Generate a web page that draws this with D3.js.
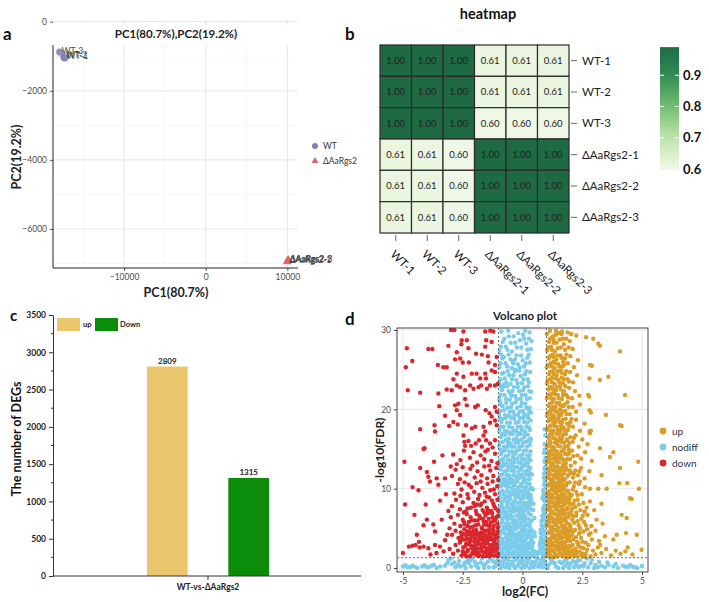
<!DOCTYPE html>
<html lang="en">
<head>
<meta charset="UTF-8">
<title>Figure</title>
<script src="https://d3js.org/d3.v7.min.js"></script>
<style>
  body { margin: 0; background: #fff; }
  text { font-family: Lato, "Open Sans", sans-serif; }
</style>
</head>
<body>
<script>
// ---------- data ----------
// a: PCA
var pcaNames = ["WT-1", "WT-2", "WT-3", "\u0394AaRgs2-1", "\u0394AaRgs2-2", "\u0394AaRgs2-3"];
var pcaGroup = ["WT", "WT", "WT", "\u0394AaRgs2", "\u0394AaRgs2", "\u0394AaRgs2"];
var pc1 = [-17260, -17380, -17870, 9980, 10050, 10120];
var pc2 = [-1050, -1020, -877, -6950, -6920, -6900];
var pcaXTicks = [-10000, 0, 10000];
var pcaYTicks = [0, -2000, -4000, -6000];

// b: correlation heatmap
var samples = ["WT-1", "WT-2", "WT-3", "\u0394AaRgs2-1", "\u0394AaRgs2-2", "\u0394AaRgs2-3"];
var corr = [
  [1.00, 1.00, 1.00, 0.61, 0.61, 0.61],
  [1.00, 1.00, 1.00, 0.61, 0.61, 0.61],
  [1.00, 1.00, 1.00, 0.60, 0.60, 0.60],
  [0.61, 0.61, 0.60, 1.00, 1.00, 1.00],
  [0.61, 0.61, 0.60, 1.00, 1.00, 1.00],
  [0.61, 0.61, 0.60, 1.00, 1.00, 1.00]
];
var colorbarTicks = [0.6, 0.7, 0.8, 0.9];

// c: DEG counts
var degGroups = ["WT-vs-\u0394AaRgs2"];
var degSeries = ["up", "Down"];
var degValues = [2809, 1315];

// d: volcano (log2FC, -log10FDR)
var upPts = "1.02,1.5 1.08,2.3 1.14,1.8 1.2,2.8 1.26,1.4 1.32,2.1 1.38,2.7 1.44,1.6 1.5,2.4 1.56,1.9 1.62,2.9 1.68,1.5 1.74,2.2 1.8,2.7 1.86,1.7 1.92,2.5 1.98,1.4 2.04,2.1 2.1,2.9 2.16,1.8 2.22,2.4 2.28,1.5 2.34,2.8 2.4,2.0 2.46,1.6 2.55,2.5 2.65,1.8 2.75,2.9 2.85,1.5 2.95,2.2 3.05,1.7 3.15,2.6 3.3,1.9 3.5,2.4 3.7,1.6 3.9,2.2 4.1,1.8 4.3,2.1 4.6,1.7 4.98,2.3 1.05,2.9 1.35,1.4 1.65,2.4 1.95,2.8 2.25,2.0 2.6,1.4 1.17,2.2 1.47,2.9 1.77,1.9 2.07,1.6 3.25,2.9 4.4,2.6 " +
  "1.03,3.3 1.09,4.4 1.15,3.7 1.21,4.8 1.27,3.2 1.33,4.1 1.39,3.6 1.45,4.7 1.51,3.3 1.57,4.2 1.63,3.8 1.69,4.9 1.75,3.2 1.81,4.4 1.87,3.7 1.93,4.6 1.99,3.4 2.06,4.1 2.13,3.6 2.2,4.8 2.28,3.3 2.36,4.3 2.45,3.8 2.55,4.6 2.65,3.2 2.78,4.2 2.9,3.6 3.05,4.7 3.2,3.4 3.45,4.0 3.8,3.6 3.94,4.2 4.33,4.4 4.78,4.2 1.12,3.0 1.42,4.1 1.72,4.4 2.02,4.9 2.32,3.1 1.24,4.0 1.54,3.0 1.84,4.0 2.7,4.9 " +
  "1.02,5.3 1.08,6.4 1.14,5.8 1.2,6.9 1.26,5.2 1.32,6.1 1.38,5.6 1.44,6.7 1.5,5.1 1.56,6.2 1.62,5.7 1.68,6.8 1.74,5.3 1.8,6.3 1.86,5.6 1.93,6.9 2.0,5.2 2.08,6.1 2.16,5.7 2.25,6.6 2.35,5.4 2.46,6.2 2.58,5.8 2.72,6.7 2.88,5.3 3.1,6.1 3.35,5.6 4.15,6.7 4.36,6.3 1.11,6.0 1.41,6.0 1.71,6.2 2.04,6.7 1.23,5.0 1.53,6.9 1.83,5.0 2.4,5.0 " +
  "1.03,7.3 1.09,8.4 1.15,7.7 1.21,8.8 1.27,7.1 1.33,8.2 1.39,7.6 1.45,8.7 1.51,7.2 1.57,8.3 1.63,7.7 1.69,8.9 1.75,7.3 1.82,8.2 1.89,7.6 1.96,8.7 2.04,7.2 2.12,8.1 2.21,7.7 2.31,8.6 2.42,7.3 2.55,8.2 2.68,7.6 2.82,8.4 3.0,7.3 3.3,8.1 4.57,8.7 4.5,8.8 1.12,8.0 1.42,8.0 1.72,8.3 2.0,8.0 1.24,7.0 1.54,8.9 1.86,8.9 2.25,7.0 " +
  "1.02,9.3 1.08,10.4 1.14,9.7 1.2,10.8 1.26,9.2 1.32,10.3 1.38,9.6 1.44,10.7 1.5,9.1 1.56,10.2 1.62,9.8 1.68,10.9 1.75,9.3 1.82,10.4 1.9,9.7 1.98,10.8 2.06,9.2 2.15,10.3 2.25,9.6 2.36,10.6 2.48,9.3 2.62,10.2 2.82,10.0 3.17,10.0 3.52,10.0 4.05,10.7 4.38,10.7 4.87,10.0 1.11,9.0 1.41,10.0 1.71,10.1 2.0,9.0 1.23,10.0 1.53,10.9 2.4,10.9 " +
  "1.03,11.3 1.09,12.4 1.15,11.8 1.21,12.9 1.27,11.2 1.33,12.3 1.39,11.7 1.45,12.8 1.51,11.3 1.57,12.2 1.63,11.7 1.7,12.8 1.77,11.2 1.85,12.4 1.93,11.8 2.02,12.9 2.11,11.4 2.21,12.3 2.32,11.7 2.45,12.6 2.6,11.3 2.8,12.2 3.31,11.7 4.08,12.6 1.12,12.0 1.42,12.0 1.74,12.3 2.05,12.0 1.25,11.0 1.6,11.0 " +
  "1.02,13.3 1.08,14.4 1.14,13.7 1.2,14.8 1.26,13.2 1.32,14.3 1.38,13.7 1.45,14.7 1.52,13.3 1.59,14.2 1.66,13.8 1.73,14.9 1.81,13.2 1.89,14.3 1.98,13.7 2.08,14.8 2.19,13.3 2.3,14.2 2.45,13.8 2.62,14.6 2.9,13.5 3.66,14.0 3.8,14.6 4.84,13.4 1.11,14.0 1.41,14.0 1.7,13.1 1.95,14.5 " +
  "1.03,15.3 1.1,16.4 1.17,15.8 1.24,16.9 1.31,15.2 1.38,16.3 1.45,15.7 1.52,16.8 1.59,15.3 1.66,16.4 1.74,15.8 1.82,16.9 1.91,15.4 2.0,16.5 2.1,15.9 2.22,16.7 2.35,15.3 2.5,16.2 2.72,15.6 3.24,15.1 2.82,17.0 1.14,16.0 1.48,16.0 1.85,16.1 " +
  "1.02,17.4 1.09,18.5 1.16,17.9 1.23,18.9 1.3,17.3 1.37,18.4 1.44,17.8 1.51,18.9 1.58,17.2 1.65,18.3 1.73,17.7 1.81,18.8 1.9,17.4 2.0,18.4 2.11,17.8 2.24,18.7 2.4,17.3 2.6,18.2 2.8,17.2 2.86,17.3 4.08,18.0 4.15,17.9 1.26,18.1 1.62,18.0 " +
  "1.03,19.3 1.1,20.4 1.17,19.8 1.24,20.9 1.31,19.2 1.38,20.3 1.46,19.7 1.54,20.8 1.62,19.3 1.7,20.4 1.79,19.8 1.88,20.9 1.98,19.4 2.1,20.3 2.24,19.7 2.4,20.6 2.8,19.9 2.86,19.6 3.49,19.3 1.2,20.0 1.58,20.0 " +
  "1.02,21.4 1.09,22.5 1.16,21.9 1.24,22.8 1.32,21.3 1.4,22.4 1.48,21.8 1.56,22.9 1.65,21.3 1.74,22.3 1.84,21.8 1.95,22.7 2.07,21.4 2.2,22.3 2.38,21.7 2.75,21.8 2.79,21.6 4.29,21.8 1.28,22.0 1.7,22.0 " +
  "1.03,23.3 1.11,24.4 1.19,23.8 1.27,24.8 1.35,23.2 1.43,24.3 1.51,23.7 1.6,24.9 1.69,23.3 1.78,24.4 1.88,23.8 1.99,24.7 2.12,23.4 2.28,24.3 2.8,23.9 3.24,23.7 3.59,24.1 1.23,24.0 1.64,24.0 " +
  "1.02,25.3 1.1,26.4 1.18,25.8 1.26,26.9 1.34,25.2 1.42,26.3 1.5,25.7 1.59,26.8 1.68,25.4 1.78,26.4 1.89,25.8 2.0,26.7 2.15,25.3 2.32,26.2 2.82,25.6 2.9,25.5 1.3,26.0 1.7,26.0 " +
  "1.03,27.4 1.11,28.5 1.19,27.9 1.27,29.2 1.35,27.3 1.43,28.4 1.51,29.6 1.6,27.8 1.69,28.9 1.78,27.5 1.88,29.7 1.98,28.6 2.1,27.6 2.25,29.3 2.66,29.1 2.96,28.9 3.17,28.3 3.24,28.0 4.08,27.3 1.15,29.9 1.4,29.9 1.65,29.8 1.02,29.5 1.3,28.8 " +
  // denser core
  "1.05,1.9 1.11,2.6 1.17,1.5 1.23,2.3 1.29,2.9 1.35,1.8 1.41,2.5 1.47,1.5 1.53,2.1 1.59,2.7 1.65,1.7 1.71,2.5 1.77,2.9 1.83,1.4 1.89,2.2 1.95,1.8 2.01,2.7 2.13,2.3 2.19,1.5 2.31,2.0 2.43,2.6 2.52,1.8 2.7,2.3 1.06,3.6 1.12,4.6 1.18,3.3 1.24,4.4 1.3,3.8 1.36,4.8 1.42,3.4 1.48,4.4 1.54,3.8 1.6,4.6 1.66,3.3 1.72,3.9 1.78,4.7 1.84,3.4 1.9,4.3 1.96,3.9 2.1,4.5 2.24,3.9 2.4,4.5 2.5,3.3 2.85,4.4 " +
  "1.05,5.6 1.11,6.6 1.17,5.2 1.23,6.3 1.29,5.8 1.35,6.8 1.41,5.4 1.47,6.3 1.53,5.8 1.59,6.6 1.65,5.3 1.71,6.0 1.77,6.8 1.83,5.8 1.9,6.4 1.97,5.5 2.12,6.5 2.3,5.9 2.52,6.6 2.65,5.4 1.06,7.7 1.12,8.7 1.18,7.3 1.24,8.3 1.3,7.8 1.36,8.8 1.42,7.4 1.48,8.3 1.54,7.8 1.6,8.7 1.66,7.3 1.72,7.9 1.79,8.6 1.85,7.4 1.93,8.3 2.08,7.5 2.18,8.5 2.36,8.0 2.6,7.1 " +
  "1.05,9.6 1.11,10.6 1.17,9.2 1.23,10.4 1.29,9.8 1.35,10.8 1.41,9.4 1.47,10.3 1.53,9.7 1.59,10.6 1.65,9.3 1.72,10.4 1.79,9.8 1.86,10.7 1.94,9.4 2.1,9.9 2.2,10.8 2.3,9.2 1.06,11.6 1.12,12.6 1.18,11.2 1.24,12.4 1.3,11.7 1.36,12.8 1.42,11.4 1.48,12.3 1.54,11.8 1.6,12.6 1.67,11.3 1.74,11.9 1.81,12.7 1.89,11.6 1.98,12.3 2.15,11.9 2.38,12.2 " +
  "1.05,13.6 1.11,14.7 1.17,13.2 1.23,14.3 1.29,13.8 1.35,14.8 1.42,13.4 1.49,14.3 1.56,13.8 1.63,14.7 1.7,13.6 1.78,14.4 1.86,13.7 1.94,14.9 2.12,14.1 1.06,15.6 1.13,16.8 1.2,15.3 1.28,16.4 1.35,15.8 1.42,16.9 1.49,15.4 1.56,16.3 1.63,15.9 1.7,16.8 1.78,15.3 1.87,16.2 1.96,15.8 2.15,16.4 1.05,17.7 1.12,18.8 1.19,17.3 1.27,18.6 1.34,17.9 1.41,18.8 1.48,17.4 1.55,18.4 1.62,17.6 1.69,18.7 1.77,17.3 1.86,18.2 1.95,17.9 2.05,18.8 1.06,19.6 1.14,20.7 1.21,19.3 1.28,20.3 1.35,19.8 1.42,20.8 1.5,19.4 1.58,20.5 1.66,19.7 1.75,20.6 1.84,19.4 1.93,20.3 " +
  "1.06,21.8 1.13,22.8 1.2,21.4 1.28,22.5 1.36,21.9 1.44,22.8 1.52,21.4 1.6,22.5 1.69,21.8 1.79,22.9 1.9,21.5 1.06,23.7 1.15,24.7 1.23,23.4 1.31,24.4 1.39,23.9 1.47,24.8 1.55,23.4 1.64,24.6 1.73,23.8 1.83,24.8 1.94,23.5 1.06,25.6 1.14,26.7 1.22,25.4 1.3,26.6 1.38,25.8 1.46,26.8 1.54,25.4 1.63,26.5 1.73,25.6 1.84,26.9 1.07,27.8 1.15,28.9 1.23,27.5 1.31,28.4 1.39,29.4 1.47,27.7 1.55,28.8 1.64,29.5 1.73,28.2 1.83,28.9 1.93,27.8 2.03,29.5";

var downPts = "-2.99,30 -2.85,30 -2.47,29.8 -1.56,29.8 -1.22,29.8 -1.35,29.9 -4.84,27.7 -3.94,27.6 -3.77,27.6 -3.1,28 -2.75,27.2 -2.54,28.7 -2.56,28.2 -2.33,28.7 -2.26,27.7 -1.52,28.7 -1.56,27.9 -1.29,28.5 -4.88,25.3 -4.61,26.1 -3.54,25.6 -3.31,25.3 -3.17,25.3 -2.82,26.3 -2.61,26.4 -2.5,25.9 -2.24,25.9 -1.94,27 -1.7,26.9 -1.45,26.7 -1.08,26.6 -1.42,25.9 -1.15,25.6 -2.75,24.5 -2.89,23.8 -2.47,24.1 -2.12,24.5 -1.92,24.5 -1.77,23.9 -1.56,24.5 -1.53,23.9 -1.29,24.9 -1.15,24.7 -4.8,22.4 -4.28,22.1 -3.52,22 -3.17,22.5 -2.96,22.4 -2.75,23 -2.61,22.8 -2.4,22.4 -2.19,23 -2.05,22.6 -1.84,22.8 -1.73,23 -1.49,22.6 -1.36,23 -1.15,23 -1.04,23.2 -3.48,20.4 -2.82,20.5 -2.68,20.7 -2.75,19.9 -2.33,20.5 -2.4,21.3 -1.98,20.3 -1.87,20.5 -1.54,19.9 -1.38,19.5 -1.15,20.3 -1.08,19.7 -3.24,19.2 -2.61,19.3 -1.29,19.1 -3.68,18 -3.07,17.9 -2.89,18.4 -2.71,18.1 -2.36,18 -2.12,17.6 -1.98,17.8 -1.63,17.8 -1.56,17.2 -1.36,18.3 -1.15,18.6 -1.08,18 -4.28,17.5 -3.66,17.2 -2.47,16.7 -1.63,16.7 -2.43,15.9 -2.26,16 -1.96,15.7 -1.82,16.1 -1.52,16.1 -1.36,15.7 -1.15,16.1 -2.15,15.4 -2.4,15.4 -4.1,15.1 -1.7,15.3 -1.25,15.2 " +
  "-4.94,13.4 -4.14,15 -4.91,8 -4.52,6.7 -4.35,9.8 -4.28,12.6 -4.0,12.1 -3.94,11.5 -3.87,10.9 -4.05,8 -3.59,11.3 -3.52,10.5 -3.24,11.3 -4.42,4.2 -4.33,3.3 -4.14,5.4 -4.0,6.1 -3.73,5.5 -3.66,4.6 -4.47,2.9 -4.14,2.7 -3.94,2.5 -3.66,2.9 -3.45,2.7 -3.24,3.5 -3.38,6.1 -3.1,7.2 -3.45,8.5 -3.2,9.3 -3.7,13.4 -3.35,14.2 -4.6,10.2 -3.0,12.8 -3.05,5.0 -3.15,4.2 -3.3,2.1 -3.6,1.9 -3.85,1.7 -4.3,2.6 -4.6,2.8 -4.75,2.7 -5.0,1.9 " +
  "-2.9,14.3 -2.6,13.6 -2.45,14.8 -2.2,13.9 -2.05,14.6 -1.9,13.3 -1.75,14.2 -1.6,13.7 -1.45,14.9 -1.3,13.5 -1.15,14.4 -1.05,13.2 -2.75,13.1 -1.55,14.7 " +
  "-2.95,11.6 -2.8,12.4 -2.62,11.2 -2.5,12.7 -2.35,11.8 -2.18,12.5 -2.0,11.4 -1.88,12.2 -1.72,11.7 -1.6,12.8 -1.48,11.3 -1.35,12.3 -1.22,11.6 -1.1,12.6 -1.02,11.1 -2.1,12.9 -1.4,12.9 " +
  "-2.85,9.4 -2.7,10.6 -2.55,9.9 -2.42,10.8 -2.3,9.3 -2.15,10.2 -2.02,9.6 -1.92,10.7 -1.8,9.2 -1.68,10.1 -1.57,9.5 -1.46,10.6 -1.35,9.8 -1.25,10.9 -1.15,9.3 -1.06,10.3 -2.6,9.1 -1.75,10.9 -1.2,9.9 -1.5,9.0 -2.25,10.5 " +
  "-2.95,7.8 -2.78,8.6 -2.62,7.4 -2.5,8.3 -2.38,7.1 -2.27,8.8 -2.16,7.6 -2.05,8.2 -1.95,7.2 -1.86,8.7 -1.76,7.9 -1.67,7.3 -1.58,8.4 -1.49,7.6 -1.4,8.9 -1.31,7.2 -1.22,8.1 -1.13,7.5 -1.05,8.6 -2.45,7.0 -1.9,8.0 -1.6,7.0 -1.28,8.5 -1.02,7.2 " +
  "-3.0,6.4 -2.85,5.6 -2.7,6.7 -2.6,5.3 -2.5,6.1 -2.42,5.5 -2.33,6.8 -2.25,5.8 -2.17,6.4 -2.08,5.2 -2.0,6.0 -1.92,6.8 -1.85,5.5 -1.77,6.3 -1.7,5.1 -1.62,5.9 -1.55,6.6 -1.48,5.4 -1.41,6.2 -1.34,5.7 -1.27,6.9 -1.2,5.3 -1.13,6.1 -1.06,5.6 -1.02,6.6 -1.88,6.0 -1.45,6.9 -2.2,5.1 -1.6,5.5 -1.25,6.4 " +
  "-2.95,4.2 -2.8,4.7 -2.68,3.8 -2.58,4.5 -2.5,3.6 -2.43,4.9 -2.36,4.1 -2.29,3.7 -2.22,4.6 -2.15,3.9 -2.08,4.4 -2.01,3.6 -1.94,4.8 -1.87,4.2 -1.8,3.7 -1.73,4.5 -1.66,3.9 -1.59,4.7 -1.52,4.1 -1.45,3.6 -1.38,4.4 -1.31,3.8 -1.24,4.9 -1.17,4.2 -1.1,3.7 -1.04,4.6 -2.6,3.5 -2.0,4.2 -1.7,5.0 -1.4,4.8 -1.2,3.5 -1.8,4.0 -2.25,4.3 -1.55,3.5 -1.05,3.9 " +
  "-3.05,2.4 -2.9,1.8 -2.8,2.9 -2.7,2.2 -2.62,3.2 -2.55,1.6 -2.48,2.6 -2.41,1.9 -2.35,3.1 -2.28,2.3 -2.21,1.5 -2.15,2.8 -2.09,2.0 -2.02,3.3 -1.96,1.7 -1.9,2.5 -1.84,1.9 -1.78,3.0 -1.72,2.2 -1.66,1.5 -1.6,2.7 -1.54,2.0 -1.48,3.2 -1.42,1.7 -1.36,2.4 -1.3,1.9 -1.24,2.9 -1.18,2.1 -1.12,1.6 -1.06,2.6 -1.02,1.8 -2.5,2.1 -2.2,3.3 -1.95,2.9 -1.7,2.6 -1.45,2.3 -1.2,3.3 -1.55,1.5 -1.85,1.5 -2.35,1.5 -1.08,3.1 -1.3,2.8 -1.65,3.3 -2.0,2.4 -1.4,1.5 " +
  // denser core
  "-2.45,1.8 -2.38,2.8 -2.31,2.1 -2.24,3.0 -2.17,1.6 -2.11,2.5 -2.05,1.9 -1.99,2.8 -1.93,2.1 -1.87,3.2 -1.81,1.7 -1.75,2.4 -1.69,2.9 -1.63,2.0 -1.57,3.1 -1.51,2.5 -1.45,1.9 -1.39,2.9 -1.33,2.2 -1.27,1.6 -1.21,2.5 -1.15,3.0 -1.09,2.2 -1.04,1.5 -2.56,4.0 -2.47,4.3 -2.39,3.6 -2.32,4.6 -2.19,3.5 -2.12,4.2 -2.05,4.7 -1.98,3.8 -1.91,4.5 -1.84,3.5 -1.77,4.2 -1.7,3.6 -1.63,4.4 -1.56,3.9 -1.49,4.7 -1.42,4.0 -1.35,3.6 -1.28,4.3 -1.21,4.7 -1.14,3.9 -1.07,4.3 -2.45,5.8 -2.3,5.3 -2.13,6.0 -1.96,5.4 -1.81,6.6 -1.66,6.2 -1.52,5.8 -1.37,5.3 -1.23,5.9 -1.09,6.4 -1.03,5.1 -2.3,7.5 -2.0,7.8 -1.72,8.1 -1.45,7.3 -1.18,7.8";

var nodiffPts = "-0.97,1.6 -0.9,2.4 -0.84,1.9 -0.77,2.8 -0.71,1.5 -0.65,2.2 -0.58,2.9 -0.52,1.8 -0.46,2.5 -0.4,1.4 -0.34,2.1 -0.28,2.8 -0.22,1.7 -0.16,2.4 -0.1,1.5 -0.04,2.9 0.02,2.0 0.08,2.6 0.14,1.6 0.2,2.3 0.26,2.9 0.32,1.8 0.38,2.5 0.44,1.5 0.62,1.7 0.74,2.4 0.74,1.9 0.8,2.8 0.86,1.5 0.92,2.2 0.97,2.9 -0.95,2.9 -0.8,1.4 -0.6,2.0 -0.37,2.8 -0.05,2.2 0.25,1.4 0.5,1.6 0.72,2.9 0.95,1.6 -0.2,2.9 0.1,2.8 -0.7,2.5 0.4,2.0 " +
  "-0.98,3.4 -0.92,4.3 -0.85,3.7 -0.79,4.8 -0.72,3.2 -0.66,4.1 -0.6,3.6 -0.54,4.7 -0.47,3.3 -0.41,4.2 -0.35,3.8 -0.29,4.9 -0.23,3.2 -0.17,4.4 -0.11,3.7 -0.05,4.8 0.01,3.4 0.07,4.2 0.13,3.6 0.19,4.7 0.25,3.1 0.31,4.1 0.37,3.6 0.42,4.6 0.74,3.3 0.76,4.4 0.77,3.8 0.83,4.9 0.89,3.2 0.95,4.1 0.99,3.6 -0.88,3.1 -0.63,4.9 -0.38,3.1 -0.14,4.0 0.1,4.9 0.35,4.9 0.8,3.1 0.52,4.0 -0.5,4.0 0.45,3.2 " +
  "-0.97,5.3 -0.9,6.4 -0.83,5.8 -0.77,6.9 -0.7,5.2 -0.63,6.1 -0.57,5.6 -0.5,6.7 -0.44,5.1 -0.37,6.0 -0.3,5.5 -0.24,6.6 -0.18,5.2 -0.11,6.2 -0.05,5.7 0.01,6.8 0.07,5.3 0.13,6.3 0.2,5.6 0.26,6.9 0.32,5.1 0.38,6.0 0.8,5.4 0.84,6.5 0.8,5.9 0.86,5.2 0.92,6.7 0.98,5.6 -0.94,6.9 -0.66,6.8 -0.4,5.7 -0.15,6.9 0.1,5.9 0.35,6.7 0.9,6.9 0.88,6.2 " +
  "-0.98,7.3 -0.91,8.4 -0.84,7.7 -0.77,8.8 -0.7,7.1 -0.64,8.1 -0.57,7.6 -0.5,8.7 -0.43,7.2 -0.37,8.2 -0.3,7.7 -0.23,8.9 -0.17,7.3 -0.1,8.3 -0.04,7.8 0.03,8.8 0.09,7.2 0.15,8.2 0.22,7.6 0.28,8.7 0.34,7.4 0.38,8.3 0.86,7.5 0.88,8.6 0.93,7.9 0.88,7.2 0.94,8.4 0.99,7.8 -0.95,8.9 -0.62,8.9 -0.35,7.1 -0.08,7.2 0.2,8.9 0.84,8.8 " +
  "-0.97,9.2 -0.9,10.3 -0.83,9.7 -0.76,10.8 -0.69,9.1 -0.62,10.2 -0.56,9.6 -0.49,10.7 -0.42,9.3 -0.36,10.4 -0.29,9.8 -0.22,10.9 -0.16,9.2 -0.09,10.3 -0.03,9.7 0.04,10.8 0.1,9.3 0.17,10.2 0.23,9.6 0.29,10.6 0.34,9.2 0.37,10.1 0.88,9.4 0.9,10.5 0.87,9.8 0.93,10.9 0.98,9.3 -0.95,10.9 -0.6,10.9 -0.3,9.0 0.0,9.0 0.85,9.0 " +
  "-0.98,11.3 -0.91,12.4 -0.84,11.8 -0.77,12.9 -0.7,11.2 -0.63,12.3 -0.56,11.7 -0.49,12.8 -0.42,11.1 -0.35,12.2 -0.28,11.6 -0.21,12.7 -0.14,11.3 -0.07,12.4 0.0,11.8 0.07,12.9 0.14,11.2 0.21,12.3 0.27,11.7 0.33,12.6 0.9,11.4 0.92,12.5 0.9,11.9 0.96,12.8 -0.95,12.9 -0.45,12.9 0.05,11.0 0.3,11.2 " +
  "-0.97,13.2 -0.89,14.3 -0.82,13.7 -0.74,14.8 -0.66,13.1 -0.59,14.2 -0.51,13.6 -0.44,14.7 -0.36,13.3 -0.29,14.4 -0.21,13.8 -0.14,14.9 -0.06,13.2 0.01,14.3 0.09,13.7 0.16,14.8 0.23,13.3 0.3,14.2 0.34,13.6 0.92,13.4 0.9,14.5 0.96,13.9 -0.92,14.9 -0.4,14.0 " +
  "-0.98,15.4 -0.9,16.5 -0.82,15.9 -0.73,16.8 -0.65,15.2 -0.57,16.3 -0.49,15.7 -0.41,16.9 -0.33,15.3 -0.25,16.4 -0.17,15.8 -0.09,16.9 -0.01,15.4 0.07,16.5 0.15,15.9 0.23,16.8 0.3,15.5 0.35,16.3 0.93,15.6 0.95,16.7 -0.6,15.5 -0.2,16.0 " +
  "-0.97,17.3 -0.88,18.4 -0.79,17.8 -0.7,18.9 -0.61,17.2 -0.52,18.3 -0.43,17.7 -0.34,18.8 -0.25,17.3 -0.16,18.4 -0.07,17.8 0.02,18.9 0.11,17.2 0.2,18.3 0.28,17.7 0.34,18.6 0.93,17.5 -0.95,18.9 -0.5,17.0 -0.1,17.0 " +
  "-0.98,19.4 -0.88,20.5 -0.78,19.9 -0.68,20.8 -0.58,19.2 -0.48,20.3 -0.38,19.7 -0.28,20.9 -0.18,19.3 -0.08,20.4 0.02,19.8 0.12,20.7 0.22,19.3 0.3,20.2 0.35,19.6 -0.93,20.9 -0.45,19.0 0.05,19.0 " +
  "-0.97,21.3 -0.86,22.4 -0.75,21.8 -0.64,22.9 -0.53,21.2 -0.42,22.3 -0.31,21.7 -0.2,22.8 -0.09,21.3 0.02,22.4 0.13,21.8 0.23,22.9 0.31,21.4 0.36,22.2 -0.92,22.9 -0.5,22.0 " +
  "-0.98,23.4 -0.86,24.5 -0.74,23.9 -0.62,24.8 -0.5,23.2 -0.38,24.3 -0.26,23.7 -0.14,24.9 -0.02,23.3 0.1,24.4 0.22,23.8 0.32,24.7 -0.8,23.1 -0.3,25.0 " +
  "-0.97,25.3 -0.84,26.4 -0.71,25.8 -0.58,26.9 -0.45,25.2 -0.32,26.3 -0.19,25.7 -0.06,26.8 0.07,25.4 0.2,26.5 0.31,25.9 -0.9,26.9 -0.4,26.0 " +
  "-0.96,27.4 -0.83,28.5 -0.7,27.9 -0.57,29.2 -0.44,27.3 -0.31,28.4 -0.18,29.6 -0.05,27.8 0.08,28.9 0.2,27.5 0.3,29.7 0.38,28.6 -0.88,29.8 -0.6,29.9 0.12,29.9 " +
  "-0.95,0.9 -0.85,0.3 -0.75,1.1 -0.65,0.5 -0.55,0.0 -0.45,0.8 -0.35,0.2 -0.25,1.2 -0.15,0.6 -0.05,0.0 0.05,0.9 0.15,0.3 0.25,1.1 0.35,0.5 0.45,0.1 0.55,0.8 0.65,0.2 0.75,1.0 0.85,0.6 0.95,0.1 -0.9,0.0 -0.6,1.0 -0.3,0.0 0.0,0.5 0.3,0.0 0.6,1.2 0.9,1.0 -0.5,0.4 0.2,0.7 0.5,0.4 " +
  "-2.45,0.4 -2.3,1.0 -2.15,0.2 -2.0,0.8 -1.85,0.0 -1.7,1.2 -1.55,0.5 -1.4,0.1 -1.25,0.9 -1.1,0.3 -2.38,0.0 -2.1,1.2 -1.9,0.5 -1.6,0.0 -1.35,1.2 -1.15,0.7 -1.75,0.7 -2.25,0.6 " +
  "1.1,0.4 1.25,1.0 1.4,0.2 1.55,0.8 1.7,0.0 1.85,1.1 2.0,0.5 2.15,0.1 2.3,0.9 2.45,0.3 1.15,1.2 1.35,0.6 1.65,0.6 1.95,0.0 2.25,0.4 2.4,1.0 1.8,0.3 2.1,0.9 " +
  "-3.25,0.3 -3.1,1.0 -2.95,0.5 -2.8,0.1 -2.65,0.9 -3.0,1.2 -2.7,0.4 2.6,0.6 2.75,0.1 2.9,1.0 3.05,0.4 3.2,0.8 2.7,1.2 3.0,0.0 3.3,0.3 " +
  "-5.0,0.2 -4.8,0.1 -4.6,0.3 -4.4,0.0 -4.2,0.2 -4.0,0.1 -3.8,0.3 -3.6,0.0 -3.45,0.2 -4.9,0.35 -4.1,0.35 -3.7,0.4 " +
  "3.45,0.1 3.6,0.4 3.8,0.2 4.0,0.0 4.2,0.3 4.4,0.1 4.6,0.2 4.8,0.0 5.0,0.25 3.9,0.5 4.5,0.4 3.55,0.7 " +
  // denser core
  "-0.93,2.0 -0.87,1.5 -0.81,2.3 -0.74,1.7 -0.68,2.9 -0.62,1.5 -0.55,2.4 -0.49,2.8 -0.43,1.9 -0.31,1.6 -0.25,2.5 -0.19,1.9 -0.13,2.7 -0.07,1.8 -0.01,2.5 0.05,1.6 0.11,2.1 0.17,2.9 0.23,1.9 0.29,2.5 0.35,1.5 0.41,2.8 0.65,2.0 0.77,2.3 0.83,1.8 0.89,2.6 0.99,2.0 0.56,2.0 0.47,2.2 " +
  "-0.95,3.8 -0.89,4.7 -0.82,3.3 -0.75,4.4 -0.69,3.8 -0.63,3.3 -0.57,4.3 -0.51,3.6 -0.44,4.6 -0.38,4.4 -0.32,3.5 -0.26,4.2 -0.2,3.7 -0.14,3.4 -0.08,4.3 -0.02,3.9 0.04,4.6 0.1,3.2 0.16,4.2 0.22,3.9 0.28,4.5 0.34,3.3 0.4,4.0 0.77,3.8 0.75,4.8 0.8,4.3 0.86,3.6 0.92,4.6 0.97,3.3 0.5,4.5 " +
  "-0.93,5.6 -0.86,6.1 -0.8,5.2 -0.73,6.4 -0.67,5.6 -0.6,6.5 -0.54,5.2 -0.47,6.2 -0.41,6.5 -0.34,5.2 -0.27,6.0 -0.21,5.7 -0.14,6.5 -0.08,5.3 -0.02,6.3 0.04,5.9 0.1,6.6 0.16,5.4 0.23,6.2 0.29,5.5 0.35,5.9 0.81,6.0 0.96,5.4 0.83,6.6 0.95,6.1 0.5,6.3 " +
  "-0.94,7.7 -0.87,8.1 -0.8,7.3 -0.74,8.5 -0.67,7.7 -0.6,8.4 -0.53,7.2 -0.47,8.1 -0.4,7.7 -0.33,8.5 -0.27,7.3 -0.2,8.2 -0.13,7.7 -0.07,8.7 0.0,7.4 0.06,8.2 0.12,7.8 0.18,7.4 0.25,8.2 0.31,7.9 0.36,8.8 0.46,8.1 0.45,7.3 0.91,7.8 0.97,8.9 " +
  "-0.93,9.6 -0.86,10.6 -0.79,9.3 -0.72,10.4 -0.65,9.7 -0.59,10.6 -0.52,9.2 -0.46,10.1 -0.39,9.7 -0.32,10.7 -0.26,9.4 -0.19,10.2 -0.12,9.7 -0.06,10.6 0.01,9.4 0.07,10.2 0.13,9.8 0.2,10.7 0.26,9.2 0.32,10.0 0.44,9.9 0.95,10.8 0.9,9.4 0.96,10.2 " +
  "-0.94,11.7 -0.87,12.8 -0.8,11.2 -0.73,12.2 -0.66,11.7 -0.59,12.7 -0.52,11.3 -0.45,12.3 -0.38,11.7 -0.31,12.7 -0.24,11.2 -0.17,12.1 -0.1,11.7 -0.03,12.7 0.04,11.4 0.11,12.2 0.18,11.8 0.24,12.8 0.3,12.0 0.4,11.8 0.97,12.3 0.93,11.3 " +
  "-0.93,13.6 -0.85,14.7 -0.78,13.2 -0.7,14.1 -0.62,13.6 -0.55,14.7 -0.47,13.2 -0.4,14.5 -0.33,13.7 -0.25,14.8 -0.17,13.3 -0.1,14.2 -0.02,13.7 0.05,14.8 0.12,13.2 0.2,14.2 0.27,13.8 0.33,14.7 0.97,13.7 0.93,14.9 " +
  "-0.94,15.8 -0.86,16.9 -0.78,15.3 -0.69,16.2 -0.61,15.9 -0.53,16.9 -0.45,15.3 -0.37,16.2 -0.29,15.8 -0.21,16.9 -0.13,15.3 -0.05,16.2 0.03,15.8 0.11,16.9 0.19,15.3 0.27,16.2 0.33,15.9 " +
  "-0.92,17.8 -0.83,18.8 -0.74,17.3 -0.65,18.3 -0.56,17.8 -0.47,18.9 -0.38,17.3 -0.29,18.3 -0.2,17.8 -0.11,18.9 -0.02,17.4 0.07,18.4 0.16,17.8 0.24,18.9 0.31,17.4 " +
  "-0.93,19.8 -0.83,20.4 -0.73,19.3 -0.63,20.2 -0.53,19.7 -0.43,20.7 -0.33,19.3 -0.23,20.2 -0.13,19.7 -0.03,20.8 0.07,19.4 0.17,20.2 0.27,19.8 " +
  "-0.92,21.8 -0.8,22.8 -0.69,21.3 -0.58,22.3 -0.47,21.7 -0.36,22.8 -0.25,21.3 -0.14,22.3 -0.03,21.8 0.08,22.8 0.18,21.3 0.28,22.3 " +
  "-0.92,23.8 -0.8,24.6 -0.68,23.4 -0.56,24.3 -0.44,23.8 -0.32,24.8 -0.2,23.3 -0.08,24.2 0.04,23.8 0.16,24.8 0.27,23.4 -0.92,25.8 -0.78,26.6 -0.64,25.4 -0.51,26.3 -0.38,25.8 -0.25,26.8 -0.12,25.3 0.01,26.2 0.14,25.8 0.26,26.9 -0.9,27.9 -0.76,28.9 -0.63,27.5 -0.5,28.4 -0.37,29.2 -0.24,27.8 -0.11,28.7 0.02,29.4 0.15,28.3 0.27,28.9 0.35,27.6 " +
  "-0.98,0.5 -0.8,0.7 -0.7,0.1 -0.6,0.4 -0.4,0.5 -0.2,0.3 -0.1,0.9 0.1,0.1 0.2,1.2 0.4,0.8 0.7,0.5 0.8,0.1 0.95,0.6 -0.3,1.0 0.0,1.1 -2.2,0.9 -1.95,0.3 -1.65,0.4 -1.45,0.8 -1.2,0.1 -1.05,1.0 -2.4,0.7 1.2,0.7 1.5,0.0 1.75,0.9 1.9,0.6 2.2,0.7 2.35,0.1 1.05,0.0 -2.6,0.2 -2.85,0.7 2.55,0.2 2.85,0.6 3.15,0.1 -3.15,0.6 -4.5,0.15 -3.9,0.15 4.3,0.2 4.7,0.1 -4.7,0.1";

var volcanoGroups = ["up", "nodiff", "down"];
var volcanoXTicks = [-5, -2.5, 0, 2.5, 5];
var volcanoYTicks = [0, 10, 20, 30];

function parsePts(s) {
    return s.trim().split(/\s+/).map(function (p) {
        var v = p.split(",").map(Number);
        return {x: v[0], y: v[1]};
    });
}

// ---------- svg ----------
var svg = d3.select("body").append("svg")
    .attr("width", 709).attr("height", 602)
    .style("display", "block");
svg.append("rect").attr("width", 709).attr("height", 602).attr("fill", "#fff");

function panelLabel(t, x, y, size) {
    svg.append("text").attr("x", x).attr("y", y).text(t)
        .attr("font-weight", "bold").attr("font-size", size).attr("fill", "#111");
}

// ================= a: PCA =================
(function () {
    var x = d3.scaleLinear().domain([-18700, 11300]).range([53, 298]);
    var y = d3.scaleLinear().domain([-7130, 50]).range([268, 20]);
    var g = svg.append("g");

    // grid
    var minorX = [-15000, -5000, 5000], minorY = [-1000, -3000, -5000, -7000];
    g.selectAll(".gmx").data(minorX).enter().append("line")
        .attr("x1", x).attr("x2", x).attr("y1", 20).attr("y2", 268)
        .attr("stroke", "#f2f2f2").attr("stroke-width", 0.6);
    g.selectAll(".gmy").data(minorY).enter().append("line")
        .attr("x1", 53).attr("x2", 298).attr("y1", y).attr("y2", y)
        .attr("stroke", "#f2f2f2").attr("stroke-width", 0.6);
    g.selectAll(".gx").data(pcaXTicks).enter().append("line")
        .attr("x1", x).attr("x2", x).attr("y1", 20).attr("y2", 268)
        .attr("stroke", "#e6e6e6").attr("stroke-width", 1);
    g.selectAll(".gy").data(pcaYTicks).enter().append("line")
        .attr("x1", 53).attr("x2", 298).attr("y1", y).attr("y2", y)
        .attr("stroke", "#e6e6e6").attr("stroke-width", 1);

    // points
    var pts = pc1.map(function (v, i) {
        return {x: v, y: pc2[i], name: pcaNames[i], group: pcaGroup[i]};
    });
    var tri = d3.symbol().type(d3.symbolTriangle).size(34);
    pts.forEach(function (d) {
        if (d.group === "WT") {
            g.append("circle").attr("cx", x(d.x)).attr("cy", y(d.y)).attr("r", 3.6)
                .attr("fill", "#7d84b6").attr("fill-opacity", 0.9);
        } else {
            g.append("path").attr("d", tri)
                .attr("transform", "translate(" + x(d.x) + "," + y(d.y) + ")")
                .attr("fill", "#e06469").attr("fill-opacity", 0.9);
        }
    });
    // sample labels overlap one another, as in the source figure
    pts.forEach(function (d) {
        g.append("text").attr("x", x(d.x) + 2).attr("y", y(d.y) + 1.5)
            .text(d.name).attr("font-size", 8.5).attr("fill", "#444")
            .attr("font-family", "'Liberation Sans', Arial, sans-serif");
    });

    // axes
    var ax = g.append("g").attr("transform", "translate(0,268)")
        .call(d3.axisBottom(x).tickValues(pcaXTicks).tickSize(3).tickFormat(d3.format("d")));
    var ay = g.append("g").attr("transform", "translate(53,0)")
        .call(d3.axisLeft(y).tickValues(pcaYTicks).tickSize(3).tickFormat(d3.format("d")));
    [ax, ay].forEach(function (a) {
        a.select(".domain").remove();
        a.selectAll("line").attr("stroke", "#555");
        a.selectAll("text").attr("font-size", 8.5).attr("fill", "#4d4d4d")
            .attr("font-family", "'Liberation Sans', Arial, sans-serif");
    });
    g.append("line").attr("x1", 53).attr("x2", 298).attr("y1", 268).attr("y2", 268).attr("stroke", "#222");

    // title band covers top of panel
    g.append("rect").attr("x", 40).attr("y", 25).attr("width", 262).attr("height", 20).attr("fill", "#fff");
    g.append("line").attr("x1", 53).attr("x2", 53).attr("y1", 45).attr("y2", 268).attr("stroke", "#222");
    g.append("text").attr("x", 176).attr("y", 38).attr("text-anchor", "middle")
        .text("PC1(80.7%),PC2(19.2%)").attr("font-weight", "bold").attr("font-size", 11.5).attr("fill", "#222");

    g.append("text").attr("x", 176).attr("y", 297).attr("text-anchor", "middle")
        .text("PC1(80.7%)").attr("font-weight", "bold").attr("font-size", 12.5).attr("fill", "#222");
    g.append("text").attr("transform", "translate(21,157) rotate(-90)").attr("text-anchor", "middle")
        .text("PC2(19.2%)").attr("font-weight", "bold").attr("font-size", 12.5).attr("fill", "#222");

    // legend
    var lg = g.append("g");
    lg.append("circle").attr("cx", 315).attr("cy", 146).attr("r", 3).attr("fill", "#7d84b6");
    lg.append("path").attr("d", d3.symbol().type(d3.symbolTriangle).size(22))
        .attr("transform", "translate(315,161)").attr("fill", "#e06469");
    ["WT", "\u0394AaRgs2"].forEach(function (t, i) {
        lg.append("text").attr("x", 323).attr("y", 146 + i * 15).attr("dy", "0.35em")
            .text(t).attr("font-size", 8.5).attr("fill", "#333")
            .attr("font-family", "'Liberation Sans', Arial, sans-serif");
    });
    panelLabel("a", 3, 40, 17);
})();

// ================= b: heatmap =================
(function () {
    var x = d3.scaleBand().domain(samples).range([380, 569]);
    var y = d3.scaleBand().domain(samples).range([45, 233]);
    var color = d3.scaleLinear().domain([0.6, 0.7, 0.8, 0.9, 1.0])
        .range(["#eff8e6", "#bfe3ae", "#72bf72", "#2f8b55", "#1d6a43"]);
    var g = svg.append("g");

    var cells = [];
    corr.forEach(function (row, i) {
        row.forEach(function (v, j) {
            cells.push({r: samples[i], c: samples[j], v: v});
        });
    });
    g.selectAll("rect.cell").data(cells).enter().append("rect")
        .attr("x", function (d) { return x(d.c); })
        .attr("y", function (d) { return y(d.r); })
        .attr("width", x.bandwidth()).attr("height", y.bandwidth())
        .attr("fill", function (d) { return color(d.v); })
        .attr("stroke", "#2b2b2b").attr("stroke-width", 1.2);
    g.selectAll("text.val").data(cells).enter().append("text")
        .attr("x", function (d) { return x(d.c) + x.bandwidth() / 2; })
        .attr("y", function (d) { return y(d.r) + y.bandwidth() / 2; })
        .attr("dy", "0.35em").attr("text-anchor", "middle")
        .text(function (d) { return d.v.toFixed(2); })
        .attr("font-size", 9.5).attr("fill", "#222");

    // row / column labels
    samples.forEach(function (s) {
        var cy = y(s) + y.bandwidth() / 2;
        g.append("line").attr("x1", 571).attr("x2", 577).attr("y1", cy).attr("y2", cy).attr("stroke", "#666");
        g.append("text").attr("x", 582).attr("y", cy).attr("dy", "0.35em")
            .text(s).attr("font-size", 11.5).attr("fill", "#222");
        var cx = x(s) + x.bandwidth() / 2;
        g.append("line").attr("x1", cx).attr("x2", cx).attr("y1", 235).attr("y2", 241).attr("stroke", "#666");
        g.append("text").attr("transform", "translate(" + (cx - 6) + ",255) rotate(45)")
            .text(s).attr("font-size", 11.5).attr("fill", "#222");
    });

    g.append("text").attr("x", 488).attr("y", 19).attr("text-anchor", "middle")
        .text("heatmap").attr("font-weight", "bold").attr("font-size", 14.5).attr("fill", "#111");

    // colorbar
    var cb = d3.scaleLinear().domain([0.6, 1.0]).range([169, 44]);
    var defs = svg.append("defs");
    var grad = defs.append("linearGradient").attr("id", "cbgrad")
        .attr("x1", 0).attr("y1", 1).attr("x2", 0).attr("y2", 0);
    d3.range(0, 11).forEach(function (i) {
        var v = 0.597 + (0.99 - 0.597) * i / 10;
        grad.append("stop").attr("offset", (i * 10) + "%").attr("stop-color", color(v));
    });
    g.append("rect").attr("x", 660).attr("y", cb(0.99)).attr("width", 19)
        .attr("height", cb(0.597) - cb(0.99)).attr("fill", "url(#cbgrad)");
    colorbarTicks.forEach(function (t) {
        var yy = cb(t);
        if (t > 0.6) {
            g.append("line").attr("x1", 660).attr("x2", 664).attr("y1", yy).attr("y2", yy).attr("stroke", "#fff");
            g.append("line").attr("x1", 675).attr("x2", 679).attr("y1", yy).attr("y2", yy).attr("stroke", "#fff");
        }
        g.append("text").attr("x", 683).attr("y", yy).attr("dy", "0.35em")
            .text(t.toFixed(1)).attr("font-weight", "bold").attr("font-size", 13).attr("fill", "#111");
    });
    panelLabel("b", 345, 40, 17);
})();

// ================= c: DEG bars =================
(function () {
    var y = d3.scaleLinear().domain([0, 3500]).range([576, 315]);
    var x0 = d3.scaleBand().domain(degGroups).range([53, 363]);
    var x1 = d3.scaleBand().domain(degSeries).range([147, 269]).paddingInner(0.5);
    var colors = {"up": "#ecc66c", "Down": "#0b8c0b"};
    var g = svg.append("g");

    degSeries.forEach(function (s, i) {
        var v = degValues[i];
        g.append("rect").attr("x", x1(s)).attr("y", y(v))
            .attr("width", x1.bandwidth()).attr("height", y(0) - y(v))
            .attr("fill", colors[s]);
        g.append("text").attr("x", x1(s) + x1.bandwidth() / 2).attr("y", y(v) - 3)
            .attr("text-anchor", "middle").text(v)
            .attr("font-weight", "bold").attr("font-size", 8).attr("fill", "#222");
    });

    var ay = g.append("g").attr("transform", "translate(53,0)")
        .call(d3.axisLeft(y).tickValues(d3.range(0, 3501, 500)).tickSize(4).tickSizeOuter(0)
            .tickFormat(d3.format("d")));
    ay.select(".domain").attr("stroke", "#333");
    ay.selectAll("line").attr("stroke", "#333");
    ay.selectAll("text").attr("font-weight", "bold").attr("font-size", 8.5).attr("fill", "#222");
    g.selectAll(".minor").data(d3.range(250, 3500, 500)).enter().append("line")
        .attr("x1", 51).attr("x2", 53).attr("y1", y).attr("y2", y).attr("stroke", "#333");

    g.append("line").attr("x1", 53).attr("x2", 361).attr("y1", 576).attr("y2", 576).attr("stroke", "#333");
    var cx = x0(degGroups[0]) + x0.bandwidth() / 2;
    g.append("line").attr("x1", cx).attr("x2", cx).attr("y1", 576).attr("y2", 580).attr("stroke", "#333");
    g.append("text").attr("x", cx).attr("y", 590).attr("text-anchor", "middle")
        .text(degGroups[0]).attr("font-weight", "bold").attr("font-size", 8.5).attr("fill", "#222");

    g.append("text").attr("transform", "translate(21,439) rotate(-90)").attr("text-anchor", "middle")
        .text("The number of DEGs").attr("font-weight", "bold").attr("font-size", 12.5).attr("fill", "#111");

    // legend
    var lx = [57, 95], tx = [83, 120];
    degSeries.forEach(function (s, i) {
        g.append("rect").attr("x", lx[i]).attr("y", 318).attr("width", 23).attr("height", 13).attr("fill", colors[s]);
        g.append("text").attr("x", tx[i]).attr("y", 324.5).attr("dy", "0.35em").text(s)
            .attr("font-weight", "bold").attr("font-size", 7.5).attr("fill", "#222");
    });
    panelLabel("c", 10, 321, 15);
})();

// ================= d: volcano =================
(function () {
    var x = d3.scaleLinear().domain([-5.25, 5.25]).range([397, 648]);
    var y = d3.scaleLinear().domain([-0.5, 30.25]).range([572, 328]);
    var colors = {"up": "#db9d27", "nodiff": "#7bcbea", "down": "#d9272d"};
    var g = svg.append("g");

    g.selectAll(".mgx").data([-3.75, -1.25, 1.25, 3.75]).enter().append("line")
        .attr("x1", x).attr("x2", x).attr("y1", 328).attr("y2", 572).attr("stroke", "#f3f3f3").attr("stroke-width", 0.6);
    g.selectAll(".mgy").data([5, 15, 25]).enter().append("line")
        .attr("x1", 397).attr("x2", 648).attr("y1", y).attr("y2", y).attr("stroke", "#f3f3f3").attr("stroke-width", 0.6);
    g.selectAll(".gx").data(volcanoXTicks).enter().append("line")
        .attr("x1", x).attr("x2", x).attr("y1", 328).attr("y2", 572).attr("stroke", "#e8e8e8");
    g.selectAll(".gy").data(volcanoYTicks).enter().append("line")
        .attr("x1", 397).attr("x2", 648).attr("y1", y).attr("y2", y).attr("stroke", "#e8e8e8");

    var series = {up: parsePts(upPts), nodiff: parsePts(nodiffPts), down: parsePts(downPts)};
    ["nodiff", "up", "down"].forEach(function (k) {
        g.append("g").selectAll("circle").data(series[k]).enter().append("circle")
            .attr("cx", function (d) { return x(d.x); })
            .attr("cy", function (d) { return y(d.y); })
            .attr("r", 2.2).attr("fill", colors[k]);
    });

    // thresholds
    [-1, 1].forEach(function (v) {
        g.append("line").attr("x1", x(v)).attr("x2", x(v)).attr("y1", 328).attr("y2", 572)
            .attr("stroke", "#444").attr("stroke-width", 0.8).attr("stroke-dasharray", "2,2");
    });
    g.append("line").attr("x1", 397).attr("x2", 648).attr("y1", y(1.3)).attr("y2", y(1.3))
        .attr("stroke", "#444").attr("stroke-width", 0.8).attr("stroke-dasharray", "2,2");

    g.append("rect").attr("x", 397).attr("y", 328).attr("width", 251).attr("height", 244)
        .attr("fill", "none").attr("stroke", "#444").attr("stroke-width", 1);

    var ax = g.append("g").attr("transform", "translate(0,572)")
        .call(d3.axisBottom(x).tickValues(volcanoXTicks).tickSize(3).tickFormat(function (d) { return d; }));
    var ay = g.append("g").attr("transform", "translate(397,0)")
        .call(d3.axisLeft(y).tickValues(volcanoYTicks).tickSize(3));
    [ax, ay].forEach(function (a) {
        a.select(".domain").remove();
        a.selectAll("line").attr("stroke", "#444");
        a.selectAll("text").attr("font-size", 8.5).attr("fill", "#4d4d4d")
            .attr("font-family", "'Liberation Sans', Arial, sans-serif");
    });

    g.append("text").attr("x", 525).attr("y", 320).attr("text-anchor", "middle")
        .text("Volcano plot").attr("font-weight", "bold").attr("font-size", 11.5).attr("fill", "#222");
    g.append("text").attr("x", 525).attr("y", 596).attr("text-anchor", "middle")
        .text("log2(FC)").attr("font-weight", "bold").attr("font-size", 12.5).attr("fill", "#222");
    g.append("text").attr("transform", "translate(384,450) rotate(-90)").attr("text-anchor", "middle")
        .text("-log10(FDR)").attr("font-weight", "bold").attr("font-size", 12).attr("fill", "#222");

    volcanoGroups.forEach(function (k, i) {
        var yy = 431 + i * 16;
        g.append("circle").attr("cx", 663).attr("cy", yy).attr("r", 3.4).attr("fill", colors[k]);
        g.append("text").attr("x", 672).attr("y", yy).attr("dy", "0.35em").text(k)
            .attr("font-size", 10).attr("fill", "#333")
            .attr("font-family", "'Liberation Sans', Arial, sans-serif");
    });
    panelLabel("d", 345, 325, 17);
})();
</script>
</body>
</html>
